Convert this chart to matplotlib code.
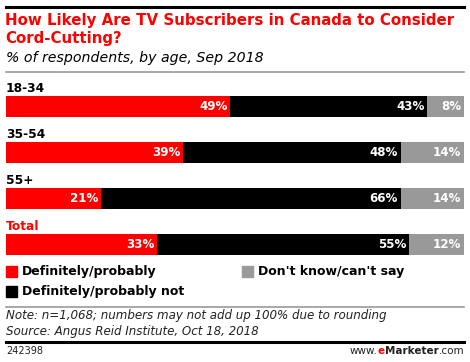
import matplotlib
matplotlib.use("Agg")
import matplotlib.pyplot as plt
from matplotlib.patches import Rectangle
from matplotlib.lines import Line2D

categories = ["18-34", "35-54", "55+", "Total"]
series_names = ["Definitely/probably", "Definitely/probably not", "Don't know/can't say"]
definitely = [49, 39, 21, 33]
definitely_not = [43, 48, 66, 55]
dont_know = [8, 14, 14, 12]
colors = ["#fe0000", "#000000", "#999999"]

W, H = 470, 362
fig = plt.figure(figsize=(W / 100, H / 100), dpi=100)
plt.rcParams['font.family'] = ['DejaVu Sans']

def fx(px):
    return px / W

def fy(py):
    return 1 - py / H

# header rules
fig.add_artist(Line2D([fx(6), fx(464)], [fy(6.5), fy(6.5)], color="black", lw=2.2))
fig.add_artist(Line2D([fx(6), fx(464)], [fy(71.5), fy(71.5)], color="#999999", lw=1.2))

fig.text(fx(5), fy(20.5), "How Likely Are TV Subscribers in Canada to Consider",
         color="#fe0000", fontsize=10.8, fontweight="bold", va="center", ha="left")
fig.text(fx(5), fy(38.5), "Cord-Cutting?",
         color="#fe0000", fontsize=10.8, fontweight="bold", va="center", ha="left")
fig.text(fx(6), fy(58), "% of respondents, by age, Sep 2018",
         color="black", fontsize=10.2, fontstyle="italic", va="center", ha="left")

# bars
ax = fig.add_axes([fx(6), fy(267.5), fx(464) - fx(6), (267.5 - 83.5) / H])
ax.set_xlim(0, 1)
ax.set_ylim(3.5, -0.5)
ax.axis("off")

series = [definitely, definitely_not, dont_know]
for i, cat in enumerate(categories):
    total = sum(s[i] for s in series)
    left = 0.0
    for s, c in zip(series, colors):
        w = s[i] / total
        ax.barh(i, w, left=left, height=0.47, color=c, edgecolor="none")
        ax.text(left + w - 0.006, i, f"{s[i]}%", color="white", fontsize=8.6,
                fontweight="bold", ha="right", va="center")
        left += w
    ax.text(0, i - 0.40, cat, color="#fe0000" if cat == "Total" else "black",
            fontsize=8.8, fontweight="bold", ha="left", va="center")

# legend
legend_items = [
    (6, 271.5, colors[0], series_names[0]),
    (242, 271.5, colors[2], series_names[2]),
    (6, 291.5, colors[1], series_names[1]),
]
for x0, yc, c, label in legend_items:
    fig.add_artist(Rectangle((fx(x0), fy(yc + 5.5)), fx(11), 11 / H, color=c,
                             transform=fig.transFigure))
    fig.text(fx(x0 + 16), fy(yc), label, fontsize=9.0, fontweight="bold",
             va="center", ha="left", color="black")

fig.add_artist(Line2D([fx(6), fx(464)], [fy(307), fy(307)], color="#999999", lw=1.2))
fig.text(fx(6), fy(316), "Note: n=1,068; numbers may not add up 100% due to rounding",
         fontsize=8.6, fontstyle="italic", va="center", ha="left", color="#222222")
fig.text(fx(6), fy(331), "Source: Angus Reid Institute, Oct 18, 2018",
         fontsize=8.6, fontstyle="italic", va="center", ha="left", color="#222222")
fig.add_artist(Line2D([fx(6), fx(464)], [fy(341.5), fy(341.5)], color="black", lw=2.2))

fig.text(fx(6), fy(350.5), "242398", fontsize=7.0, va="center", ha="left", color="#222222")
base_y = fy(354.5)
t_com = fig.text(fx(464), base_y, ".com", fontsize=7.5, va="baseline", ha="right",
                 color="#222222")
t_mk = fig.text(0, 0, "Marketer", fontsize=7.5, fontweight="bold", va="baseline",
                ha="right", color="#222222")
t_e = fig.text(0, 0, "e", fontsize=7.5, fontweight="bold", va="baseline",
               ha="right", color="#fe0000")
t_www = fig.text(0, 0, "www.", fontsize=7.5, va="baseline", ha="right", color="#222222")

fig.canvas.draw()
r = fig.canvas.get_renderer()
inv = fig.transFigure.inverted()
prev = t_com
for t in [t_mk, t_e, t_www]:
    bb = prev.get_window_extent(r)
    x_left = inv.transform((bb.x0, bb.y0))[0]
    t.set_position((x_left, base_y))
    fig.canvas.draw()
    prev = t

fig.savefig("out.png", dpi=100)
